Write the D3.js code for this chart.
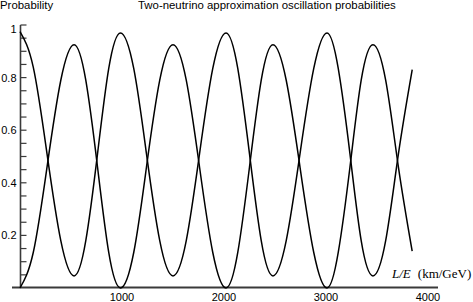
<!DOCTYPE html>
<html>
<head>
<meta charset="utf-8">
<script src="https://cdn.jsdelivr.net/npm/d3@7"></script>
<style>
  html, body { margin: 0; padding: 0; background: #fff; }
  svg { display: block; }
</style>
</head>
<body>
<svg id="chart" width="473" height="302"></svg>
<script>
// L/E values (km/GeV) at which the curves were read
const distance = [0, 130, 265, 400, 530, 645, 760, 870, 985, 1115, 1240, 1370, 1500,
  1630, 1760, 1890, 2020, 2135, 2250, 2365, 2480, 2610, 2745, 2880, 3010,
  3120, 3235, 3345, 3460, 3585, 3710, 3845];
// oscillation probability (starts at 0)
const probAppear = [0, 0.135, 0.46, 0.79, 0.925, 0.79, 0.46, 0.135, 0, 0.135, 0.46, 0.79, 0.925,
  0.79, 0.46, 0.135, 0, 0.135, 0.46, 0.79, 0.925, 0.79, 0.46, 0.135, 0,
  0.135, 0.46, 0.79, 0.925, 0.79, 0.46, 0.14];
// survival probability (starts near 1)
const probSurvive = [0.975, 0.84, 0.51, 0.18, 0.046, 0.18, 0.51, 0.835, 0.97, 0.835, 0.51, 0.18, 0.046,
  0.18, 0.51, 0.835, 0.97, 0.835, 0.51, 0.18, 0.046, 0.18, 0.51, 0.835, 0.97,
  0.835, 0.51, 0.18, 0.046, 0.18, 0.51, 0.83];
const xTicks = [1000, 2000, 3000, 4000];
const yMajorTicks = [0.2, 0.4, 0.6, 0.8, 1];
const yMinorTicks = d3.range(1, 21).map(i => i / 20);
const title = "Two-neutrino approximation oscillation probabilities";
const yTitle = "Probability";

const svg = d3.select("#chart");
const x = d3.scaleLinear().domain([0, 4000]).range([20, 428]);
const y = d3.scaleLinear().domain([0, 1]).range([288, 25]);
const axisColor = "#3a3a3a";

// x axis line
svg.append("line")
  .attr("x1", 12).attr("x2", 438)
  .attr("y1", 287.5).attr("y2", 287.5)
  .attr("stroke", axisColor).attr("stroke-width", 2);

// x tick labels
svg.append("g").selectAll("text").data(xTicks).join("text")
  .attr("x", d => x(d)).attr("y", 300.5)
  .attr("text-anchor", "middle")
  .attr("font-family", "Liberation Sans, Arial, sans-serif")
  .attr("font-size", 11)
  .text(d => d);

// y axis line
svg.append("line")
  .attr("x1", 20.5).attr("x2", 20.5)
  .attr("y1", y(1)).attr("y2", 287.5)
  .attr("stroke", axisColor).attr("stroke-width", 1.6);

// y ticks
svg.append("g").selectAll("line").data(yMinorTicks).join("line")
  .attr("x1", 20.5).attr("x2", 26.5)
  .attr("y1", d => y(d)).attr("y2", d => y(d))
  .attr("stroke", axisColor).attr("stroke-width", 1.2);

svg.append("g").selectAll("text").data(yMajorTicks).join("text")
  .attr("x", 16.5).attr("y", d => y(d) + (d === 1 ? 7.5 : 4))
  .attr("text-anchor", "end")
  .attr("font-family", "Liberation Sans, Arial, sans-serif")
  .attr("font-size", 11)
  .text(d => d);

// titles
svg.append("text").attr("x", 0).attr("y", 9)
  .attr("font-family", "Liberation Sans, Arial, sans-serif")
  .attr("font-size", 11.4).text(yTitle);
svg.append("text").attr("x", 138).attr("y", 9)
  .attr("font-family", "Liberation Sans, Arial, sans-serif")
  .attr("font-size", 11.4).text(title);

// x axis title
const xt = svg.append("text").attr("x", 392).attr("y", 278)
  .attr("font-family", "Liberation Serif, Times New Roman, serif")
  .attr("font-size", 13);
xt.append("tspan").attr("font-style", "italic").text("L/E");
xt.append("tspan").attr("dx", 7).text("(km/GeV)");

// curves
const line = (vals) => d3.line()
  .x((d, i) => x(distance[i]))
  .y(d => y(d))
  .curve(d3.curveNatural)(vals);

[probAppear, probSurvive].forEach(vals => {
  svg.append("path")
    .attr("d", line(vals))
    .attr("fill", "none")
    .attr("stroke", "#000")
    .attr("stroke-width", 1.5);
});
</script>
</body>
</html>
